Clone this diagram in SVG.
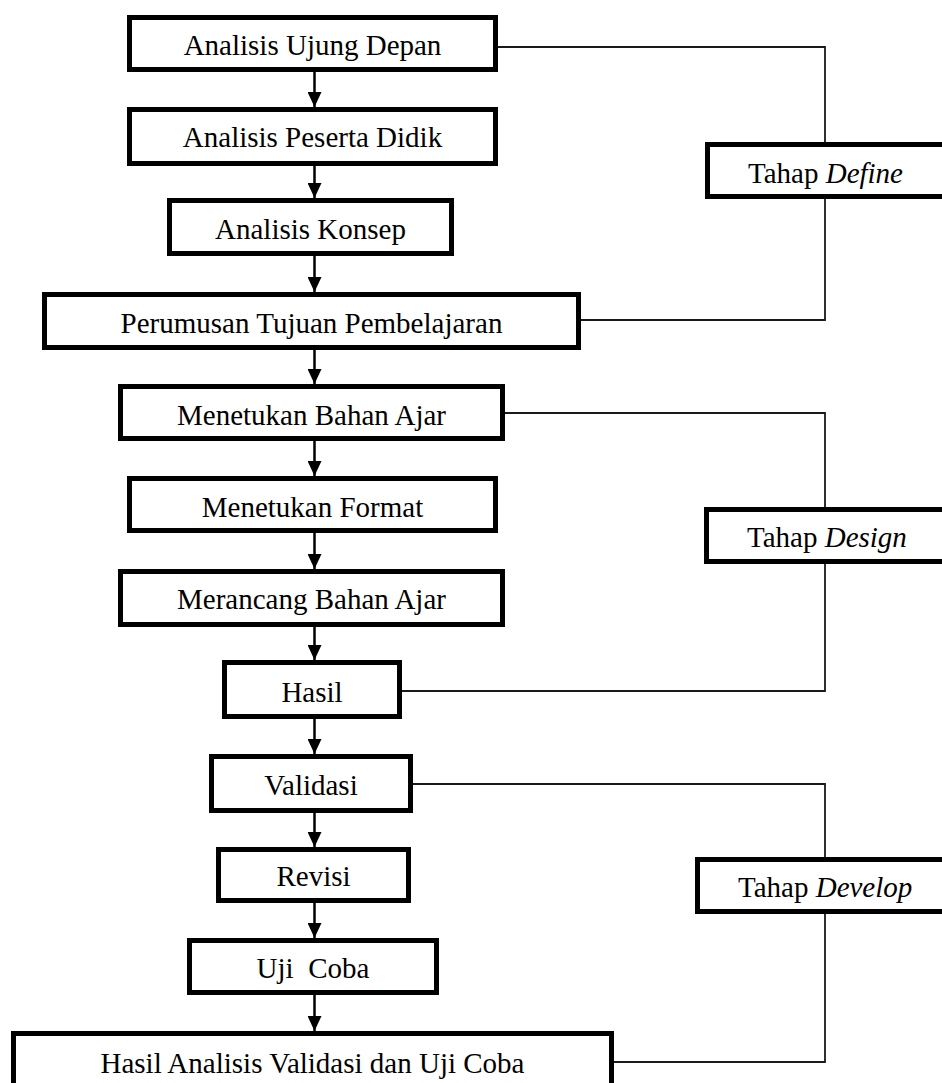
<svg xmlns="http://www.w3.org/2000/svg" width="942" height="1083" viewBox="0 0 942 1083">
<style>
.box{fill:#ffffff;stroke:#000000;stroke-width:5}
.lbl{font-family:"Liberation Serif","Times New Roman",serif;font-size:29px;fill:#000000;text-anchor:middle}
.side{font-family:"Liberation Serif","Times New Roman",serif;font-size:29px;fill:#000000}
.flow{fill:none;stroke:#000000;stroke-width:2.5}
.link{fill:none;stroke:#1a1a1a;stroke-width:1.8}
</style>
<defs>
<marker id="ah" markerUnits="userSpaceOnUse" markerWidth="15" markerHeight="14" refX="15" refY="7" orient="auto">
<path d="M0,0 L15,7 L0,14 z" fill="#000000"/>
</marker>
</defs>
<rect x="0" y="0" width="942" height="1083" fill="#ffffff"/>
<g id="connectors">
<line class="flow" x1="314.5" y1="72" x2="314.5" y2="107" marker-end="url(#ah)"/>
<line class="flow" x1="314.5" y1="166" x2="314.5" y2="198" marker-end="url(#ah)"/>
<line class="flow" x1="314.5" y1="256" x2="314.5" y2="292" marker-end="url(#ah)"/>
<line class="flow" x1="314.5" y1="350" x2="314.5" y2="384" marker-end="url(#ah)"/>
<line class="flow" x1="314.5" y1="441" x2="314.5" y2="476" marker-end="url(#ah)"/>
<line class="flow" x1="314.5" y1="533" x2="314.5" y2="569" marker-end="url(#ah)"/>
<line class="flow" x1="314.5" y1="627" x2="314.5" y2="660" marker-end="url(#ah)"/>
<line class="flow" x1="314.5" y1="719" x2="314.5" y2="754" marker-end="url(#ah)"/>
<line class="flow" x1="314.5" y1="813" x2="314.5" y2="847" marker-end="url(#ah)"/>
<line class="flow" x1="314.5" y1="903" x2="314.5" y2="938" marker-end="url(#ah)"/>
<line class="flow" x1="314.5" y1="995" x2="314.5" y2="1031" marker-end="url(#ah)"/>
<polyline class="link" points="498,47 825,47 825,142"/>
<polyline class="link" points="581,320 825,320 825,199"/>
<polyline class="link" points="505,413 825,413 825,507"/>
<polyline class="link" points="402,691 825,691 825,564"/>
<polyline class="link" points="413,784 825,784 825,857"/>
<polyline class="link" points="614,1062 825,1062 825,914"/>
</g>
<g id="n1"><rect class="box" x="129.5" y="17.5" width="366" height="52"/><text class="lbl" x="312.5" y="55">Analisis Ujung Depan</text></g>
<g id="n2"><rect class="box" x="129.5" y="109.5" width="366" height="54"/><text class="lbl" x="312.5" y="147">Analisis Peserta Didik</text></g>
<g id="n3"><rect class="box" x="169.5" y="200.5" width="282" height="53"/><text class="lbl" x="310.5" y="239">Analisis Konsep</text></g>
<g id="n4"><rect class="box" x="44.5" y="294.5" width="534" height="53"/><text class="lbl" x="311.5" y="333">Perumusan Tujuan Pembelajaran</text></g>
<g id="n5"><rect class="box" x="120.5" y="386.5" width="382" height="52"/><text class="lbl" x="311.5" y="425">Menetukan Bahan Ajar</text></g>
<g id="n6"><rect class="box" x="129.5" y="478.5" width="366" height="52"/><text class="lbl" x="312.5" y="517">Menetukan Format</text></g>
<g id="n7"><rect class="box" x="120.5" y="571.5" width="382" height="53"/><text class="lbl" x="311.5" y="609">Merancang Bahan Ajar</text></g>
<g id="n8"><rect class="box" x="224.5" y="662.5" width="175" height="54"/><text class="lbl" x="312" y="702">Hasil</text></g>
<g id="n9"><rect class="box" x="211.5" y="756.5" width="199" height="54"/><text class="lbl" x="311" y="795">Validasi</text></g>
<g id="n10"><rect class="box" x="218.5" y="849.5" width="190" height="51"/><text class="lbl" x="313.5" y="886">Revisi</text></g>
<g id="n11"><rect class="box" x="189.5" y="940.5" width="247" height="52"/><text class="lbl" x="313" y="978" xml:space="preserve">Uji  Coba</text></g>
<g id="n12"><rect class="box" x="13.5" y="1033.5" width="598" height="60"/><text class="lbl" x="312.5" y="1073">Hasil Analisis Validasi dan Uji Coba</text></g>
<g id="define"><rect class="box" x="707.5" y="144.5" width="250" height="52"/><text class="side" x="748" y="183">Tahap <tspan font-style="italic">Define</tspan></text></g>
<g id="design"><rect class="box" x="706.5" y="509.5" width="250" height="52"/><text class="side" x="747" y="547">Tahap <tspan font-style="italic">Design</tspan></text></g>
<g id="develop"><rect class="box" x="697.5" y="859.5" width="260" height="52"/><text class="side" x="738" y="897">Tahap <tspan font-style="italic">Develop</tspan></text></g>
</svg>
